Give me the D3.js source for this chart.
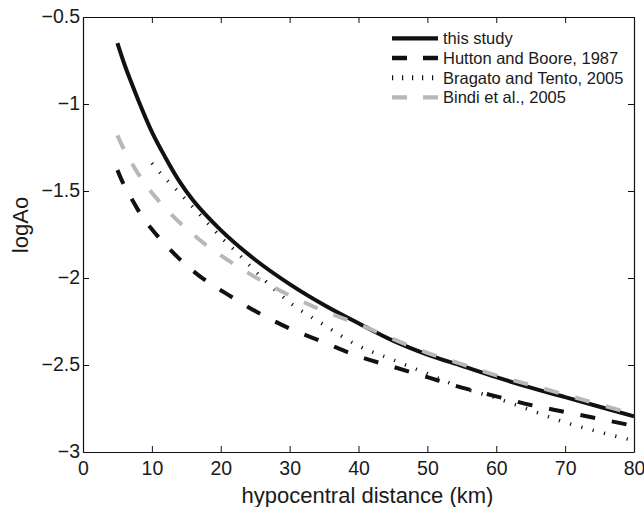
<!DOCTYPE html>
<html>
<head>
<meta charset="utf-8">
<script src="https://cdn.jsdelivr.net/npm/d3@7"></script>
<style>
  body { margin: 0; background: #fff; }
  svg { display: block; }
  text { font-family: "Liberation Sans", Arial, Helvetica, sans-serif; fill: #1a1a1a; }
</style>
</head>
<body>
<div id="chart"></div>
<script>
// values (logAo vs hypocentral distance)
var distance = [5, 6, 7, 8, 10, 12, 14, 16, 18, 20, 25, 30, 35, 40, 45, 50, 55, 60, 65, 70, 75, 80];
var thisStudy = [-0.65, -0.77, -0.875, -0.975, -1.16, -1.31, -1.445, -1.555, -1.645, -1.725, -1.895, -2.035, -2.155, -2.26, -2.36, -2.44, -2.505, -2.57, -2.63, -2.685, -2.74, -2.795];
var huttonBoore = [-1.38, -1.47, -1.54, -1.61, -1.72, -1.81, -1.89, -1.96, -2.02, -2.07, -2.19, -2.29, -2.37, -2.45, -2.51, -2.57, -2.63, -2.68, -2.73, -2.77, -2.81, -2.85];
var bindi = [-1.18, -1.265, -1.335, -1.40, -1.51, -1.60, -1.68, -1.75, -1.815, -1.87, -1.995, -2.10, -2.19, -2.265, -2.35, -2.43, -2.495, -2.56, -2.615, -2.67, -2.727, -2.782];
var bragatoDist = [10, 12, 14, 16, 18, 20, 22, 25, 30, 35, 40, 45, 50, 55, 60, 65, 70, 75, 80];
var bragato = [-1.34, -1.43, -1.51, -1.595, -1.68, -1.765, -1.84, -1.96, -2.14, -2.27, -2.39, -2.47, -2.55, -2.63, -2.69, -2.76, -2.83, -2.885, -2.935];

var xTicks = [0, 10, 20, 30, 40, 50, 60, 70, 80];
var yTicks = [-3, -2.5, -2, -1.5, -1, -0.5];
var legendNames = ["this study", "Hutton and Boore, 1987", "Bragato and Tento, 2005", "Bindi et al., 2005"];

var width = 644, height = 507;
// plot box edges (not named top/left: window.top is read only)
var boxL = 83, boxR = 634, boxT = 17, boxB = 452;

var svg = d3.select("#chart").append("svg")
  .attr("width", width)
  .attr("height", height);

var x = d3.scaleLinear().domain([0, 80]).range([boxL, boxR]);
var y = d3.scaleLinear().domain([-3, -0.5]).range([boxB, boxT]);

var series = [
  {name: legendNames[0], xs: distance, ys: thisStudy, color: "#111", width: 4, dash: null, legDash: null, legW: 4.3},
  {name: legendNames[1], xs: distance, ys: huttonBoore, color: "#111", width: 4, dash: "15 17", legDash: "15 16", legW: 4.3},
  {name: legendNames[2], xs: bragatoDist, ys: bragato, color: "#111", width: 3.5, dash: "1.2 10.5", legDash: "1.2 8.8", legW: 5},
  {name: legendNames[3], xs: distance, ys: bindi, color: "#b8b8b8", width: 4, dash: "15 17", legDash: "15 16", legW: 4.3}
];

var line = d3.line()
  .x(function(d) { return x(d[0]); })
  .y(function(d) { return y(d[1]); })
  .curve(d3.curveMonotoneX);

var curves = svg.append("g");
series.forEach(function(s) {
  var pts = s.xs.map(function(v, i) { return [v, s.ys[i]]; });
  curves.append("path")
    .datum(pts)
    .attr("d", line)
    .attr("fill", "none")
    .attr("stroke", s.color)
    .attr("stroke-width", s.width)
    .attr("stroke-dasharray", s.dash);
});

// axes, ticks pointing inward on all four sides
var fmt = d3.format("");
var gx = svg.append("g").attr("transform", "translate(0," + boxB + ")")
  .call(d3.axisBottom(x).tickValues(xTicks).tickFormat(fmt).tickSizeInner(-6).tickSizeOuter(0).tickPadding(9));
var gy = svg.append("g").attr("transform", "translate(" + boxL + ",0)")
  .call(d3.axisLeft(y).tickValues(yTicks).tickFormat(fmt).tickSizeInner(-6).tickSizeOuter(0).tickPadding(3));
var gt = svg.append("g").attr("transform", "translate(0," + boxT + ")")
  .call(d3.axisTop(x).tickValues(xTicks).tickFormat("").tickSizeInner(-6).tickSizeOuter(0));
var gr = svg.append("g").attr("transform", "translate(" + boxR + ",0)")
  .call(d3.axisRight(y).tickValues(yTicks).tickFormat("").tickSizeInner(-6).tickSizeOuter(0));

[gx, gy, gt, gr].forEach(function(g) {
  g.select(".domain").attr("stroke", "#111").attr("stroke-width", 1.2);
  g.selectAll(".tick line").attr("stroke", "#111").attr("stroke-width", 1);
  g.selectAll(".tick text")
    .style("font-size", "19.5px")
    .style("font-family", "'Liberation Sans', Arial, Helvetica, sans-serif")
    .attr("fill", "#1a1a1a");
});
gx.selectAll(".tick text").attr("dy", "0.71em");
gy.selectAll(".tick text").attr("dy", "0.3em");

// axis titles
svg.append("text")
  .attr("x", 367.5)
  .attr("y", 503)
  .attr("text-anchor", "middle")
  .style("font-size", "22px")
  .text("hypocentral distance (km)");
svg.append("text")
  .attr("transform", "translate(28,225) rotate(-90)")
  .attr("text-anchor", "middle")
  .style("font-size", "22px")
  .text("logAo");

// legend, no box
var legend = svg.append("g");
series.forEach(function(s, i) {
  var ly = 38.3 + i * 19.7;
  legend.append("line")
    .attr("x1", 392).attr("x2", 438)
    .attr("y1", ly).attr("y2", ly)
    .attr("stroke", s.color)
    .attr("stroke-width", s.legW)
    .attr("stroke-dasharray", s.legDash);
  legend.append("text")
    .attr("x", 443)
    .attr("y", ly + 6)
    .style("font-size", "16.5px")
    .text(s.name);
});
</script>
</body>
</html>
